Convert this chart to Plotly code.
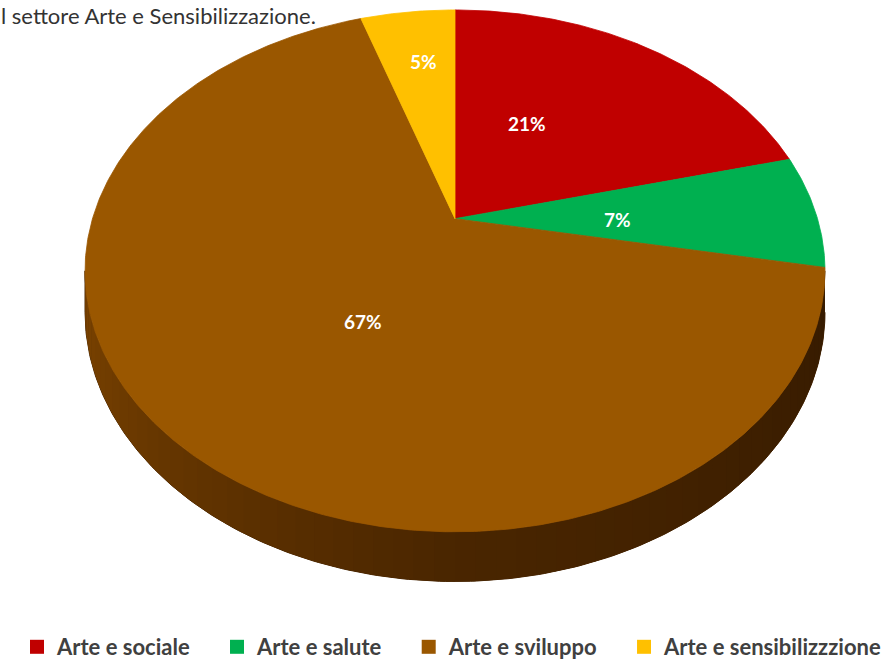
import numpy as np
import plotly.graph_objects as go

# ---- data ----
categories = ["Arte e sociale", "Arte e salute", "Arte e sviluppo", "Arte e sensibilizzzione"]
values = [21, 7, 67, 5]
colors = ["#C00000", "#00B050", "#9A5700", "#FFC000"]
title_text = "l settore Arte e Sensibilizzazione."

# ---- geometry of the tilted (perspective) pie, in pixel-like axis units ----
W, H = 887, 668
CX, CY = 455, 220          # apex of the pie
A, B, K = 362.5, 252, 0.2  # horizontal radius, vertical radius, perspective factor
D = 40                     # thickness
LABEL_R = [0.465, 0.447, 0.445, 0.724]     # radial position of labels
LABEL_DT = [-10.3, 2.3, -9.6, 1.0]         # angular nudge of labels (deg)


def proj(theta_deg, f=1.0):
    t = np.radians(theta_deg)
    u, v = f * np.sin(t), f * np.cos(t)
    den = 1 + K * v
    return CX + A * u / den, CY - B * v / den, D / den


fig = go.Figure()

# side wall (visible front part)
th_right = np.degrees(np.arccos(-K))
th_left = 360 - th_right
ts = np.linspace(th_right, th_left, 200)
xs, ys, ds = proj(ts)
base_col = "rgb(70,36,0)"
fig.add_trace(go.Scatter(x=list(xs) + list(xs[::-1]), y=list(ys) + list((ys + ds)[::-1]),
                         mode="lines", fill="toself", fillcolor=base_col,
                         line=dict(color=base_col, width=1), showlegend=False,
                         hoverinfo="skip"))
n_seg = 60
edges = np.linspace(th_right, th_left, n_seg + 1)
c_right = np.array([0x36, 0x1B, 0x00])
c_mid = np.array([0x4A, 0x26, 0x00])
c_left = np.array([0x7C, 0x44, 0x00])
for i in range(n_seg):
    a0, a1 = edges[i], edges[i + 1] + 0.3
    tt = np.linspace(a0, min(a1, th_left), 4)
    sx, sy, sd = proj(tt)
    px = list(sx) + list(sx[::-1])
    py = list(sy) + list((sy + sd)[::-1])
    s = i / (n_seg - 1)
    if s < 0.5:
        c = c_right + (c_mid - c_right) * (s / 0.5)
    else:
        c = c_mid + (c_left - c_mid) * ((s - 0.5) / 0.5)
    col = "rgb(%d,%d,%d)" % tuple(c.astype(int))
    fig.add_trace(go.Scatter(x=px, y=py, mode="none", fill="toself", fillcolor=col,
                             showlegend=False, hoverinfo="skip"))

# top face slices
total = sum(values)
start = 0.0
mids = []
for cat, val, col in zip(categories, values, colors):
    a0 = start / total * 360
    a1 = (start + val) / total * 360
    tt = np.linspace(a0, a1, max(int(a1 - a0) * 2, 8))
    sx, sy, _ = proj(tt)
    px = [CX] + list(sx) + [CX]
    py = [CY] + list(sy) + [CY]
    fig.add_trace(go.Scatter(x=px, y=py, mode="lines", fill="toself", fillcolor=col,
                             line=dict(color=col, width=0.8), showlegend=False,
                             hoverinfo="skip", name=cat))
    mids.append((a0 + a1) / 2)
    start += val

# labels
for val, m, f, dt in zip(values, mids, LABEL_R, LABEL_DT):
    lx, ly, _ = proj(m + dt, f)
    fig.add_annotation(x=lx, y=ly, text="<b>%d%%</b>" % round(val / total * 100),
                       showarrow=False, font=dict(family="Lato", size=19, color="white"))

# legend entries
pad = "\u00a0" * 4
for i, (cat, col) in enumerate(zip(categories, colors)):
    fig.add_trace(go.Scatter(x=[None], y=[None], mode="markers",
                             name=cat + (pad if i < len(categories) - 1 else ""),
                             marker=dict(symbol="square", size=14, color=col)))

# text at the top
fig.add_annotation(xref="paper", yref="paper", x=0, y=1, xanchor="left", yanchor="top",
                   xshift=-1, yshift=0, text=title_text, showarrow=False,
                   font=dict(family="Lato", size=22, color="#333333"))

fig.update_layout(
    width=W, height=H,
    margin=dict(l=0, r=0, t=0, b=0),
    paper_bgcolor="white", plot_bgcolor="white",
    xaxis=dict(range=[0, W], visible=False, fixedrange=True),
    yaxis=dict(range=[H, 0], visible=False, fixedrange=True),
    legend=dict(orientation="h", x=0.5 + 18 / W, xanchor="center", y=1 - 651 / H,
                yanchor="middle",
                font=dict(family="Lato", size=22, color="#404040", weight="bold"),
                itemwidth=30, bgcolor="rgba(0,0,0,0)"),
    showlegend=True,
)

fig.write_html("out.html", config={"displayModeBar": False},
               post_script="document.body.style.margin='0';")
